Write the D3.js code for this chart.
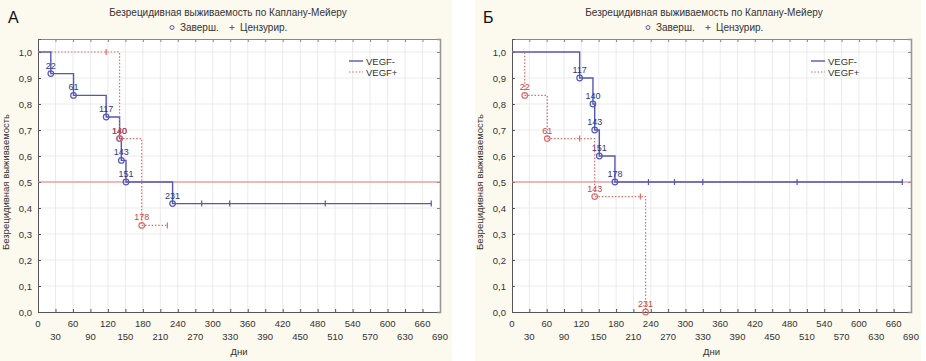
<!DOCTYPE html>
<html lang="ru">
<head>
  <meta charset="UTF-8">
  <style>
    body { margin: 0; overflow: hidden; background: #ffffff; }
    svg { display: block; font-family: "Liberation Sans", Arial, sans-serif; }
    .grid line { stroke: #e6e6e6; stroke-width: 0.8; }
    .tick-label { font-size: 9.5px; fill: #333; }
    .small { font-size: 10px; fill: #333; }
  </style>
  <script src="https://d3js.org/d3.v7.min.js"></script>
</head>
<body>
<svg id="chart"></svg>
<script>
  // axis ticks
  const xTicks = [0, 30, 60, 90, 120, 150, 180, 210, 240, 270, 300, 330, 360, 390, 420, 450, 480, 510, 540, 570, 600, 630, 660, 690];
  const yTicks = [0, 0.1, 0.2, 0.3, 0.4, 0.5, 0.6, 0.7, 0.8, 0.9, 1.0];

  // panel A
  const aNegEvents = [22, 61, 117, 140, 143, 151, 231];
  const aNegSurv = [0.917, 0.833, 0.75, 0.667, 0.583, 0.5, 0.417];
  const aNegCens = [281, 329, 493, 675];
  const aPosEvents = [140, 178];
  const aPosSurv = [0.667, 0.333];
  const aPosCens = [117, 222];

  // panel B
  const bNegEvents = [117, 140, 143, 151, 178];
  const bNegSurv = [0.9, 0.8, 0.7, 0.6, 0.5];
  const bNegCens = [236, 281, 330, 493, 675];
  const bPosEvents = [22, 61, 143, 231];
  const bPosSurv = [0.833, 0.667, 0.444, 0];
  const bPosCens = [117, 222];

  const seriesNames = ["VEGF-", "VEGF+"];
  const title = "Безрецидивная выживаемость по Каплану-Мейеру";

  const blue = "#5557b8";
  const blueText = "#33357f";
  const red = "#de6a6a";
  const redText = "#c94848";

  const svg = d3.select("#chart").attr("width", 926).attr("height", 361);

  function stepPoints(events, surv, cens) {
    const pts = [[0, 1]];
    let s = 1;
    events.forEach((t, i) => {
      pts.push([t, s]);
      s = surv[i];
      pts.push([t, s]);
    });
    const lastCens = d3.max(cens);
    if (lastCens > d3.max(events)) pts.push([lastCens, s]);
    return pts;
  }

  function survAt(t, events, surv) {
    let s = 1;
    events.forEach((e, i) => { if (e <= t) s = surv[i]; });
    return s;
  }

  function drawPanel(p) {
    const g = svg.append("g");
    g.append("rect").attr("x", p.bg[0]).attr("y", 0)
      .attr("width", p.bg[1] - p.bg[0]).attr("height", 361).attr("fill", "#fcf9ef");

    const x = d3.scaleLinear().domain([0, 690]).range([p.x0, p.x1]);
    const y = d3.scaleLinear().domain([0, 1.05]).range([312, 39]);

    g.append("rect").attr("x", x(0)).attr("y", y(1.05))
      .attr("width", x(690) - x(0)).attr("height", y(0) - y(1.05)).attr("fill", "#fff");

    // grid
    const grid = g.append("g").attr("class", "grid");
    grid.selectAll(".gx").data(xTicks.slice(1, -1)).join("line")
      .attr("x1", d => x(d)).attr("x2", d => x(d)).attr("y1", y(0)).attr("y2", y(1.05));
    grid.selectAll(".gy").data(yTicks.slice(1)).join("line")
      .attr("x1", x(0)).attr("x2", x(690)).attr("y1", d => y(d)).attr("y2", d => y(d));

    // frame with inner ticks
    g.append("g").attr("transform", `translate(0,${y(0)})`)
      .call(d3.axisBottom(x).tickValues(xTicks).tickSize(-3).tickFormat(""))
      .call(a => a.selectAll("line, path").attr("stroke", "#555"));
    g.append("g").attr("transform", `translate(0,${y(1.05)})`)
      .call(d3.axisTop(x).tickValues(xTicks).tickSize(-3).tickFormat(""))
      .call(a => a.selectAll("line, path").attr("stroke", "#888"));
    g.append("g").attr("transform", `translate(${x(0)},0)`)
      .call(d3.axisLeft(y).tickValues(yTicks).tickSize(-3).tickFormat(""))
      .call(a => a.selectAll("line, path").attr("stroke", "#555"));
    g.append("g").attr("transform", `translate(${x(690)},0)`)
      .call(d3.axisRight(y).tickValues(yTicks).tickSize(-3).tickFormat(""))
      .call(a => { a.selectAll("line").attr("stroke", "#888"); a.select("path").attr("stroke", "#999").attr("stroke-width", 1.6); });

    // tick labels
    g.selectAll(".xl").data(xTicks).join("text")
      .attr("class", "tick-label").attr("text-anchor", "middle")
      .attr("x", d => x(d)).attr("y", (d, i) => i % 2 === 0 ? 327 : 340)
      .text(d => d);
    g.selectAll(".yl").data(yTicks).join("text")
      .attr("class", "tick-label").attr("text-anchor", "end")
      .attr("x", x(0) - 6).attr("y", d => y(d) + 3.5)
      .text(d => d3.format(".1f")(d).replace(".", ","));

    g.append("text").attr("class", "tick-label").attr("text-anchor", "middle")
      .attr("x", (x(0) + x(690)) / 2).attr("y", 355).text("Дни");
    g.append("text").attr("class", "tick-label").attr("text-anchor", "middle")
      .attr("transform", `translate(${x(0) - 29},${y(0.5)}) rotate(-90)`)
      .text("Безрецидивная выживаемость");

    // header
    g.append("text").attr("x", p.bg[0] + 8).attr("y", 23)
      .attr("font-size", 16).attr("fill", "#111").text(p.letter);
    g.append("text").attr("class", "small").attr("text-anchor", "middle")
      .attr("x", p.titleX).attr("y", 16).text(title);
    g.append("circle").attr("cx", p.titleX - 56).attr("cy", 27.5).attr("r", 2)
      .attr("fill", "none").attr("stroke", blue).attr("stroke-width", 1);
    g.append("text").attr("class", "small").attr("x", p.titleX - 48).attr("y", 31).text("Заверш.");
    g.append("path").attr("d", `M${p.titleX + 4},25v5M${p.titleX + 1.5},27.5h5`)
      .attr("stroke", blue).attr("stroke-width", 1);
    g.append("text").attr("class", "small").attr("x", p.titleX + 12).attr("y", 31).text("Цензурир.");

    // reference line
    g.append("line").attr("x1", x(0)).attr("x2", x(690)).attr("y1", y(0.5)).attr("y2", y(0.5))
      .attr("stroke", "#e08080").attr("stroke-width", 1.2);

    const line = d3.line().x(d => x(d[0])).y(d => y(d[1]));
    const series = [
      { ev: p.negEv, sv: p.negSv, cs: p.negCs, color: blue, text: blueText, dash: null, w: 1.4 },
      { ev: p.posEv, sv: p.posSv, cs: p.posCs, color: red, text: redText, dash: "1.5,1.8", w: 1.2 }
    ];
    series.forEach(s => {
      g.append("path").datum(stepPoints(s.ev, s.sv, s.cs)).attr("d", line)
        .attr("fill", "none").attr("stroke", s.color).attr("stroke-width", s.w)
        .attr("stroke-dasharray", s.dash);
      g.selectAll(null).data(s.cs).join("line")
        .attr("x1", d => x(d)).attr("x2", d => x(d))
        .attr("y1", d => y(survAt(d, s.ev, s.sv)) - 3).attr("y2", d => y(survAt(d, s.ev, s.sv)) + 3)
        .attr("stroke", s.color).attr("stroke-width", 1.2);
      g.selectAll(null).data(s.ev).join("circle")
        .attr("cx", d => x(d)).attr("cy", (d, i) => y(s.sv[i])).attr("r", 2.8)
        .attr("fill", "none").attr("stroke", s.color).attr("stroke-width", 1.2);
      g.selectAll(null).data(s.ev).join("text")
        .attr("font-size", 9).attr("fill", s.text).attr("text-anchor", "middle")
        .attr("x", d => x(d)).attr("y", (d, i) => y(s.sv[i]) - 5).text(d => d);
    });

    // legend
    seriesNames.forEach((name, i) => {
      const ly = 61 + i * 11;
      g.append("line").attr("x1", p.legX).attr("x2", p.legX + 14).attr("y1", ly).attr("y2", ly)
        .attr("stroke", series[i].color).attr("stroke-width", series[i].w)
        .attr("stroke-dasharray", series[i].dash);
      g.append("text").attr("class", "tick-label").attr("x", p.legX + 17).attr("y", ly + 3.5).text(name);
    });
  }

  drawPanel({
    letter: "А", bg: [0, 452], x0: 38, x1: 440, titleX: 228, legX: 349,
    negEv: aNegEvents, negSv: aNegSurv, negCs: aNegCens,
    posEv: aPosEvents, posSv: aPosSurv, posCs: aPosCens
  });
  drawPanel({
    letter: "Б", bg: [475, 921], x0: 512, x1: 911, titleX: 704, legX: 811,
    negEv: bNegEvents, negSv: bNegSurv, negCs: bNegCens,
    posEv: bPosEvents, posSv: bPosSurv, posCs: bPosCens
  });
</script>
</body>
</html>
